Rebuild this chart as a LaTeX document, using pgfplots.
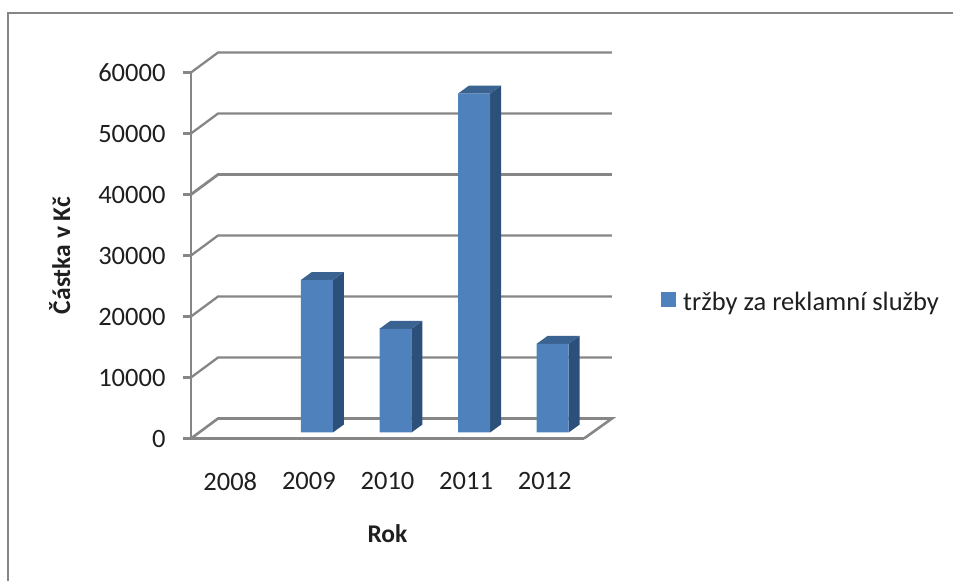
\documentclass[border=0pt]{standalone}
\usepackage{pgfplots}
\pgfplotsset{compat=1.18}
\usepackage{fontspec}
\setmainfont{Carlito}
\definecolor{gridc}{HTML}{868686}
\definecolor{front}{HTML}{4F81BD}
\definecolor{side}{HTML}{2C5079}
\definecolor{toppart}{HTML}{3A6391}
\begin{document}
\begin{tikzpicture}[x=1pt,y=1pt]
\path[use as bounding box] (0,0) rectangle (953,581);
% outer frame, open at bottom and right
\draw[color=gridc, line width=2.5pt] (8,0) -- (8,568) -- (953,568);
\begin{axis}[
    at={(191pt,142.5pt)}, anchor=south west,
    scale only axis, width=393pt, height=366pt,
    xmin=-0.5, xmax=4.5, ymin=0, ymax=60000,
    clip=false,
    axis lines=left,
    axis line style={-, color=gridc, line width=2.6pt},
    xtick={0,1,2,3,4},
    xticklabels={2008,2009,2010,2011,2012},
    x tick style={draw=none},
    ytick={0,10000,20000,30000,40000,50000,60000},
    scaled y ticks=false,
    y tick style={color=gridc, line width=2.2pt},
    major tick length=8pt,
    tick align=outside,
    /pgf/number format/assume math mode=true,
    /pgf/number format/1000 sep={},
    tick label style={font=\fontsize{26.5}{30}\selectfont, color=black!88},
    xticklabel style={yshift=-22pt},
    yticklabel style={xshift=-14pt},
    xlabel={\textbf{Rok}},
    ylabel={\textbf{Částka v Kč}},
    label style={font=\fontsize{25.5}{30}\selectfont, color=black!88},
    xlabel style={at={(axis description cs:0.5,-0.26)}, anchor=center},
    ylabel style={at={(axis description cs:-0.334,0.5)}, anchor=center, rotate=0},
    legend style={at={(axis description cs:1.196,0.3715)}, anchor=west, draw=none, fill=none,
        font=\fontsize{26.5}{30}\selectfont, inner sep=0pt, text=black!88},
    legend image code/.code={\fill[front] (0pt,-10pt) rectangle (15pt,5pt);},
    legend cell align=left,
]
% floor and back wall lines
\addplot[forget plot, color=gridc, line width=2.6pt] coordinates {(-0.5,0) (-0.156,3279) (4.856,3279) (4.5,0)};
\addplot[forget plot, color=gridc, line width=2.3pt] coordinates {(-0.5,10000) (-0.156,13279) (4.856,13279)};
\addplot[forget plot, color=gridc, line width=2.3pt] coordinates {(-0.5,20000) (-0.156,23279) (4.856,23279)};
\addplot[forget plot, color=gridc, line width=2.3pt] coordinates {(-0.5,30000) (-0.156,33279) (4.856,33279)};
\addplot[forget plot, color=gridc, line width=2.8pt] coordinates {(-0.5,40000) (-0.156,43279) (4.856,43279)};
\addplot[forget plot, color=gridc, line width=2.3pt] coordinates {(-0.5,50000) (-0.156,53279) (4.856,53279)};
\addplot[forget plot, color=gridc, line width=2.3pt] coordinates {(-0.5,60000) (-0.156,63279) (4.856,63279)};
% side faces, right edge of each bar and 11 px deeper
\addplot[forget plot, fill=side, draw=none] coordinates {(1.305,984) (1.445,2295) (1.445,27295) (1.305,25984)} --cycle;
\addplot[forget plot, fill=side, draw=none] coordinates {(2.305,984) (2.445,2295) (2.445,19295) (2.305,17984)} --cycle;
\addplot[forget plot, fill=side, draw=none] coordinates {(3.305,984) (3.445,2295) (3.445,57865) (3.305,56554)} --cycle;
\addplot[forget plot, fill=side, draw=none] coordinates {(4.305,984) (4.445,2295) (4.445,16835) (4.305,15524)} --cycle;
% top faces
\addplot[forget plot, fill=toppart, draw=none] coordinates {(0.898,25984) (1.038,27295) (1.445,27295) (1.305,25984)} --cycle;
\addplot[forget plot, fill=toppart, draw=none] coordinates {(1.898,17984) (2.038,19295) (2.445,19295) (2.305,17984)} --cycle;
\addplot[forget plot, fill=toppart, draw=none] coordinates {(2.898,56554) (3.038,57865) (3.445,57865) (3.305,56554)} --cycle;
\addplot[forget plot, fill=toppart, draw=none] coordinates {(3.898,15524) (4.038,16835) (4.445,16835) (4.305,15524)} --cycle;
% front faces
\addplot[ybar, bar width=32pt, bar shift=0pt, fill=front, draw=none, xshift=8pt, yshift=6pt]
    coordinates {(1,25000) (2,17000) (3,55570) (4,14540)};
\addlegendentry{\hspace{5pt}tržby za reklamní služby}
\end{axis}
\end{tikzpicture}
\end{document}
